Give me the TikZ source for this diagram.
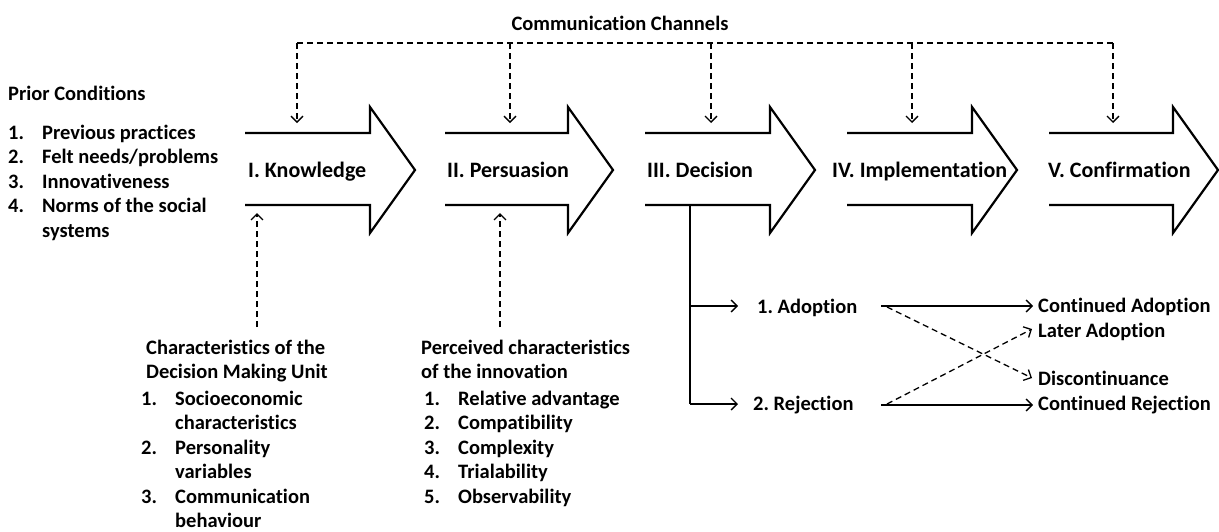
\documentclass[tikz,border=0pt]{standalone}
\usepackage{fontspec}
\setmainfont{Carlito}[Ligatures={NoCommon}]
\usetikzlibrary{arrows.meta}
\frenchspacing
\begin{document}
\begin{tikzpicture}[x=1pt,y=-1pt,
  stage/.style={line width=2.2pt, line join=miter},
  conn/.style={line width=1.3pt,-{Straight Barb[length=6pt,width=12pt,line width=1.3pt]}},
  plain/.style={line width=1.3pt},
  dsh/.style={dash pattern=on 6pt off 4pt},
  big/.style={font=\fontsize{22}{26}\selectfont\bfseries\frenchspacing, inner sep=0pt, anchor=base west},
  txt/.style={font=\fontsize{20.5}{24.5}\selectfont\bfseries\frenchspacing, inner sep=0pt, anchor=base west},
]
\useasboundingbox (0,0) rectangle (1219,531);
% stage arrows
\foreach \L/\C/\T in {245/370/415, 445/568/613, 645/770/815, 847/972/1017, 1049/1173/1218}{
  \draw[stage] (\L,133) -- (\C,133) -- (\C,107) -- (\T,170) -- (\C,233) -- (\C,205) -- (\L,205);
}
\node[big] (k) at (248,177) {I. Knowledge};
\node[big] (p) at (447,177) {II. Persuasion};
\node[big] (d) at (647,177) {III. Decision};
\node[big] (i) at (832,177) {IV. Implementation};
\node[big] (c) at (1048,177) {V. Confirmation};
% communication channels
\node[txt, anchor=base] (cc) at (620,30) {Communication Channels};
\coordinate (c1) at (297,43);
\coordinate (c2) at (510,43);
\coordinate (c3) at (711,43);
\coordinate (c4) at (912,43);
\coordinate (c5) at (1113,43);
\coordinate (k1) at (297,123);
\coordinate (p1) at (510,123);
\coordinate (d1) at (711,123);
\coordinate (i1) at (912,123);
\coordinate (f1) at (1113,123);
\draw[plain,dsh] (c1) -- (c5);
\draw[conn,dsh] (c1) -- (k1);
\draw[conn,dsh] (c2) -- (p1);
\draw[conn,dsh] (c3) -- (d1);
\draw[conn,dsh] (c4) -- (i1);
\draw[conn,dsh] (c5) -- (f1);
% prior conditions
\node[txt] (pc) at (8,100) {Prior Conditions};
\node[txt] (pcl) at (8,139) {\begin{tabular}[t]{@{}p{34pt}@{}l@{}}
1. & Previous practices\\
2. & Felt needs/problems\\
3. & Innovativeness\\
4. & Norms of the social\\
   & systems
\end{tabular}};
% decision making unit
\node[txt] (dmu) at (146,354) {\begin{tabular}[t]{@{}l@{}}
Characteristics of the\\
Decision Making Unit
\end{tabular}};
\node[txt] (dmul) at (141,405) {\begin{tabular}[t]{@{}p{34pt}@{}l@{}}
1. & Socioeconomic\\
   & characteristics\\
2. & Personality\\
   & variables\\
3. & Communication\\
   & behaviour
\end{tabular}};
\node[txt] (pci) at (421,354) {\begin{tabular}[t]{@{}l@{}}
Perceived characteristics\\
of the innovation
\end{tabular}};
\node[txt] (pcil) at (424,405) {\begin{tabular}[t]{@{}p{34pt}@{}l@{}}
1. & Relative advantage\\
2. & Compatibility\\
3. & Complexity\\
4. & Trialability\\
5. & Observability
\end{tabular}};
\coordinate (u1) at (257,327);
\coordinate (u1t) at (257,213);
\coordinate (u2) at (500,327);
\coordinate (u2t) at (500,213);
\draw[conn,dsh] (u1) -- (u1t);
\draw[conn,dsh] (u2) -- (u2t);
% decision branches
\node[txt] (ad) at (757,313) {1. Adoption};
\node[txt] (rj) at (753,410) {2. Rejection};
\node[txt] (ca) at (1038,312) {Continued Adoption};
\node[txt] (la) at (1038,337) {Later Adoption};
\node[txt] (dc) at (1038,385) {Discontinuance};
\node[txt] (cr) at (1038,410) {Continued Rejection};
\coordinate (b0) at (690,205);
\coordinate (b1) at (690,306);
\coordinate (b2) at (690,404);
\draw[plain] (b0) -- (b2);
\draw[conn] (b1) -- (738,306);
\draw[conn] (b2) -- (738,404);
\coordinate (a0) at (881,306);
\coordinate (r0) at (881,405);
\draw[conn] (a0) -- (1033,306);
\draw[conn] (r0) -- (1033,405);
\draw[conn,dsh] (887,307) -- (1032,378);
\draw[conn,dsh] (887,404) -- (1032,329);
\end{tikzpicture}
\end{document}
